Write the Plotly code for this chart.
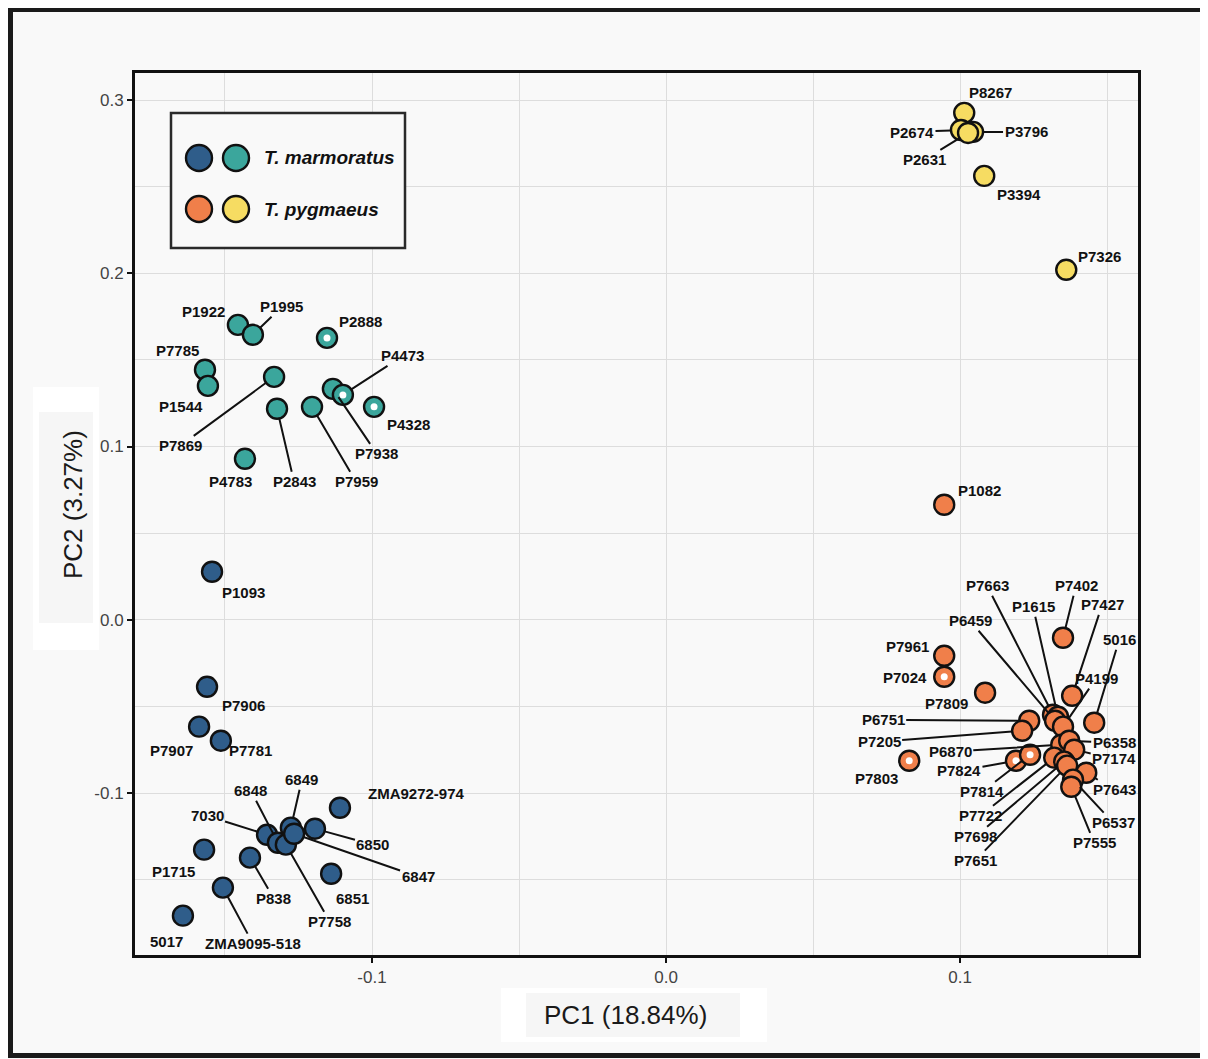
import plotly.graph_objects as go

# ---------------- data ----------------
# T. marmoratus, group 1 (dark blue)
marm1_names = ["P1093", "P7906", "P7907", "P7781", "P1715", "5017", "ZMA9095-518", "P838",
               "7030", "6848", "P7758", "6849", "6847", "6850", "ZMA9272-974", "6851"]
marm1_pc1 = [-0.1544, -0.1561, -0.1588, -0.1514, -0.1571, -0.1643, -0.1507, -0.1415,
             -0.1357, -0.1320, -0.1293, -0.1276, -0.1265, -0.1194, -0.1109, -0.1139]
marm1_pc2 = [0.0277, -0.0387, -0.0617, -0.0698, -0.1327, -0.1708, -0.1546, -0.1373,
             -0.1241, -0.1287, -0.1298, -0.1200, -0.1235, -0.1206, -0.1085, -0.1466]

# T. marmoratus, group 2 (teal)
marm2_names = ["P1922", "P1995", "P2888", "P7785", "P1544", "P7869", "P2843", "P7959",
               "P7938", "P4473", "P4328", "P4783"]
marm2_pc1 = [-0.1456, -0.1405, -0.1153, -0.1568, -0.1558, -0.1333, -0.1323, -0.1204,
             -0.1133, -0.1099, -0.0993, -0.1432]
marm2_pc2 = [0.1702, 0.1645, 0.1627, 0.1443, 0.1350, 0.1402, 0.1218, 0.1229,
             0.1333, 0.1298, 0.1229, 0.0929]

# T. pygmaeus, group 1 (orange)
pyg1_names = ["P1082", "P7402", "P7427", "P7961", "P7024", "P7809", "5016", "P6751", "P7205",
              "P7803", "P7824", "P7814", "P7663", "P1615", "P6459", "P4199", "P6870", "P6358",
              "P7174", "P7722", "P7698", "P7651", "P7643", "P6537", "P7555"]
pyg1_pc1 = [0.0946, 0.1350, 0.1381, 0.0946, 0.0946, 0.1085, 0.1456, 0.1235, 0.1211,
            0.0827, 0.1190, 0.1238, 0.1316, 0.1333, 0.1323, 0.1350, 0.1344, 0.1371,
            0.1388, 0.1320, 0.1354, 0.1364, 0.1429, 0.1384, 0.1378]
pyg1_pc2 = [0.0664, -0.0104, -0.0439, -0.0208, -0.0329, -0.0421, -0.0594, -0.0583, -0.0641,
            -0.0814, -0.0814, -0.0779, -0.0548, -0.0560, -0.0583, -0.0617, -0.0721, -0.0698,
            -0.0750, -0.0796, -0.0819, -0.0842, -0.0883, -0.0923, -0.0964]

# T. pygmaeus, group 2 (yellow)
pyg2_names = ["P8267", "P2674", "P3796", "P2631", "P3394", "P7326"]
pyg2_pc1 = [0.1014, 0.1003, 0.1044, 0.1027, 0.1082, 0.1361]
pyg2_pc2 = [0.2926, 0.2827, 0.2816, 0.2810, 0.2562, 0.2020]

# samples drawn with a white centre
marked_samples = ["P2888", "P4473", "P4328", "P7024", "P7803", "P7824", "P7814"]

x_ticks = [-0.1, 0.0, 0.1]
y_ticks = [-0.1, 0.0, 0.1, 0.2, 0.3]
x_title = "PC1 (18.84%)"
y_title = "PC2 (3.27%)"
species = ["T. marmoratus", "T. pygmaeus"]

# ---------------- styles / layout ----------------
C_BLUE = "#2f5d8a"
C_TEAL = "#3ba69c"
C_ORANGE = "#f07f4a"
C_YELLOW = "#f6dc62"
BG = "#f9f9f9"
FONT = "Liberation Sans, Arial, sans-serif"

W, H = 1208, 1059
OFF = 8                           # page offset of the figure (body margin)
L, R, T, B = 127, 1130, 65, 947   # plot area in figure pixels
XR = [-0.1806, 0.1605]
YR = [-0.1935, 0.3156]

def px(xp):   # page pixel -> paper x
    return (xp - OFF - L) / (R - L)

def py(yp):   # page pixel -> paper y
    return (B - (yp - OFF)) / (B - T)

# label offsets in pixels (dx, dy, draw segment)
label_pos = {
    "P1093": (31, 21, False), "P7906": (36, 19, False), "P7907": (-28, 24, False),
    "P7781": (30, 10, False), "P1715": (-31, 22, False), "5017": (-16, 26, False),
    "ZMA9095-518": (30, 56, True), "P838": (24, 41, True), "7030": (-60, -19, True),
    "6848": (-27, -52, True), "6849": (11, -48, True), "ZMA9272-974": (77, -14, False),
    "6850": (58, 16, True), "6847": (124, 43, True), "P7758": (44, 77, True),
    "6851": (21, 25, False),
    "P1922": (-34, -13, False), "P1995": (29, -28, True), "P2888": (33, -16, False),
    "P7785": (-27, -19, False), "P1544": (-27, 21, False), "P7869": (-94, 69, True),
    "P2843": (17, 73, True), "P7959": (44, 75, True), "P7938": (44, 65, True),
    "P4473": (60, -39, True), "P4328": (34, 18, False), "P4783": (-14, 23, False),
    "P8267": (26, -20, False), "P2674": (-49, 2, True), "P3796": (53, 0, True),
    "P2631": (-44, 27, True), "P3394": (35, 19, False), "P7326": (33, -13, False),
    "P1082": (35, -14, False), "P7402": (13, -52, True), "P7427": (30, -91, True),
    "P7961": (-37, -9, False), "P7024": (-39, 1, False), "P7809": (-39, 11, False),
    "5016": (25, -83, True), "P6751": (-146, -1, True), "P7205": (-143, 11, True),
    "P7803": (-33, 18, False), "P7824": (-57, 10, True), "P7814": (-48, 37, True),
    "P7663": (-66, -129, True), "P1615": (-25, -110, True), "P6459": (-85, -100, True),
    "P4199": (33, -48, True), "P6870": (-111, 7, True), "P6358": (45, 2, True),
    "P7174": (40, 9, True), "P7722": (-74, 58, True), "P7698": (-89, 75, True),
    "P7651": (-92, 95, True), "P7643": (28, 17, True), "P6537": (40, 43, True),
    "P7555": (23, 56, True),
}

groups = [
    ("T. marmoratus (1)", marm1_names, marm1_pc1, marm1_pc2, C_BLUE),
    ("T. marmoratus (2)", marm2_names, marm2_pc1, marm2_pc2, C_TEAL),
    ("T. pygmaeus (1)", pyg1_names, pyg1_pc1, pyg1_pc2, C_ORANGE),
    ("T. pygmaeus (2)", pyg2_names, pyg2_pc1, pyg2_pc2, C_YELLOW),
]

fig = go.Figure()
annotations = []
for gname, names, xs, ys, col in groups:
    fig.add_trace(go.Scatter(
        x=xs, y=ys, mode="markers", name=gname, text=names,
        hovertemplate="%{text}<br>PC1=%{x}<br>PC2=%{y}<extra></extra>",
        marker=dict(size=20, color=col, line=dict(color="#111111", width=2.4)),
        showlegend=False, cliponaxis=False))
    for n, xv, yv in zip(names, xs, ys):
        dx, dy, seg = label_pos[n]
        annotations.append(dict(
            x=xv, y=yv, xref="x", yref="y", text=n, showarrow=True,
            ax=dx, ay=dy, axref="pixel", ayref="pixel", arrowhead=0,
            arrowwidth=2, standoff=10,
            arrowcolor="#111111" if seg else "rgba(0,0,0,0)",
            font=dict(family=FONT, size=15, color="#111111", weight="bold")))

# white centres
mx, my = [], []
for gname, names, xs, ys, col in groups:
    for n, xv, yv in zip(names, xs, ys):
        if n in marked_samples:
            mx.append(xv)
            my.append(yv)
fig.add_trace(go.Scatter(x=mx, y=my, mode="markers", showlegend=False, hoverinfo="skip",
                         marker=dict(size=7, color="white", line=dict(width=0))))

shapes = []
# outer figure frame
shapes.append(dict(type="rect", xref="paper", yref="paper", x0=px(OFF + 2.5), x1=px(1240),
                   y0=py(OFF + 1047.5), y1=py(OFF + 1.5), line=dict(color="#1a1a1a", width=5),
                   fillcolor="rgba(0,0,0,0)", layer="above"))
# axis title boxes
shapes.append(dict(type="rect", xref="paper", yref="paper", x0=px(501), x1=px(767),
                   y0=py(1042), y1=py(988), line=dict(width=0), fillcolor="white", layer="below"))
shapes.append(dict(type="rect", xref="paper", yref="paper", x0=px(526), x1=px(740),
                   y0=py(1037), y1=py(993), line=dict(width=0), fillcolor="#f6f6f6", layer="below"))
shapes.append(dict(type="rect", xref="paper", yref="paper", x0=px(33), x1=px(99),
                   y0=py(650), y1=py(387), line=dict(width=0), fillcolor="white", layer="below"))
shapes.append(dict(type="rect", xref="paper", yref="paper", x0=px(39), x1=px(93),
                   y0=py(623), y1=py(412), line=dict(width=0), fillcolor="#f6f6f6", layer="below"))
# legend box
shapes.append(dict(type="rect", xref="paper", yref="paper", x0=px(171), x1=px(405),
                   y0=py(248), y1=py(113), line=dict(color="#2a2a2a", width=2.5),
                   fillcolor=BG, layer="above"))
legend_keys = [(199, 158, C_BLUE), (236, 158, C_TEAL), (199, 209, C_ORANGE), (236, 209, C_YELLOW)]
for cx, cy, col in legend_keys:
    shapes.append(dict(type="circle", xref="paper", yref="paper", xsizemode="pixel",
                       ysizemode="pixel", xanchor=px(cx), yanchor=py(cy),
                       x0=-13, x1=13, y0=-13, y1=13, fillcolor=col,
                       line=dict(color="#111111", width=2.4), layer="above"))
for sp, cy in zip(species, [158, 209]):
    annotations.append(dict(x=px(262), y=py(cy), xref="paper", yref="paper",
                            text="<b><i>%s</i></b>" % sp, showarrow=False,
                            xanchor="left", yanchor="middle",
                            font=dict(family=FONT, size=19, color="#111111")))

# axis titles
annotations.append(dict(x=px(625), y=py(1015), xref="paper", yref="paper", text=x_title,
                        showarrow=False, xanchor="center", yanchor="middle",
                        font=dict(family=FONT, size=26, color="#1a1a1a")))
annotations.append(dict(x=px(73), y=py(505), xref="paper", yref="paper", text=y_title,
                        showarrow=False, xanchor="center", yanchor="middle", textangle=-90,
                        font=dict(family=FONT, size=26, color="#1a1a1a")))

axis_common = dict(
    showgrid=True, gridcolor="#dddddd", gridwidth=1, zeroline=False,
    showline=True, linecolor="#111111", linewidth=3, mirror=True,
    ticks="outside", ticklen=5, tickwidth=1.5, tickcolor="#111111",
    tickfont=dict(family=FONT, size=17, color="#444444"),
)

fig.update_layout(
    width=W, height=H,
    margin=dict(l=L, r=W - R, t=T, b=H - B, pad=0),
    paper_bgcolor=BG, plot_bgcolor=BG,
    showlegend=False,
    xaxis=dict(range=XR, tickvals=x_ticks, ticktext=["%.1f" % v for v in x_ticks],
               minor=dict(dtick=0.05, tick0=0, showgrid=True, gridcolor="#dddddd",
                          ticks=""), **axis_common),
    yaxis=dict(range=YR, tickvals=y_ticks, ticktext=["%.1f" % v for v in y_ticks],
               minor=dict(dtick=0.05, tick0=0, showgrid=True, gridcolor="#dddddd",
                          ticks=""), **axis_common),
    shapes=shapes, annotations=annotations,
)

fig.write_html("out.html")
